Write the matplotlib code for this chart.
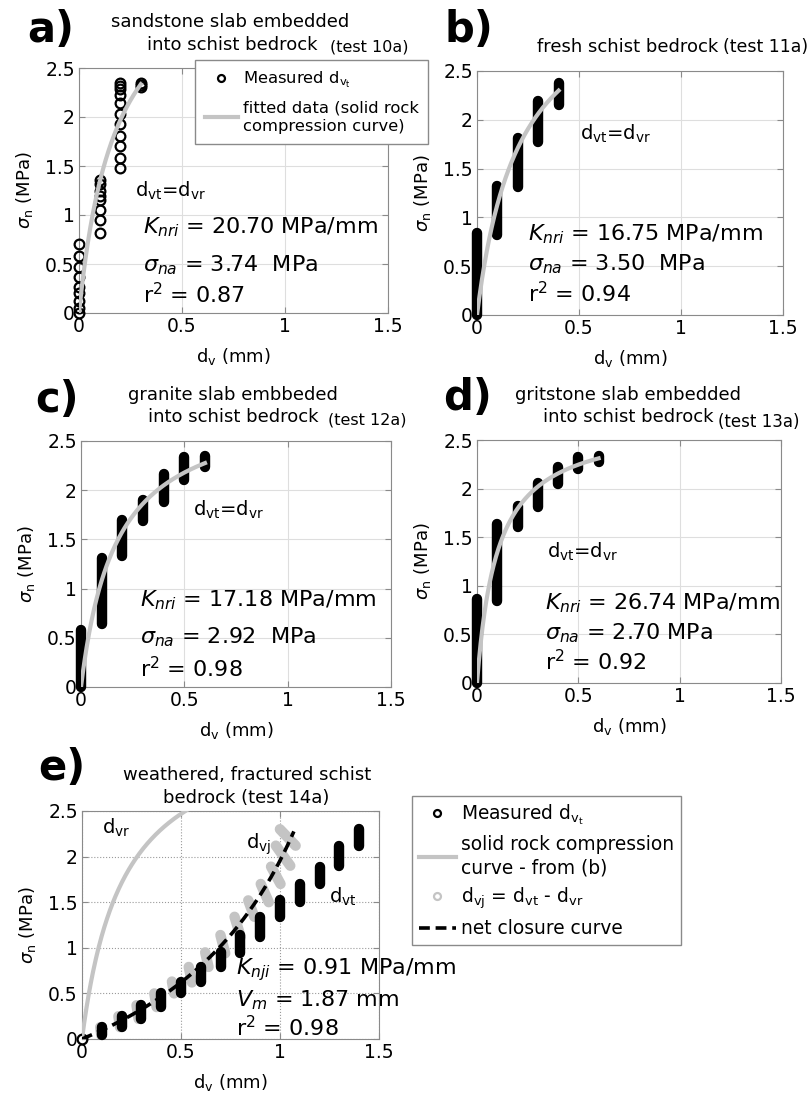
import numpy as np
import matplotlib
matplotlib.use("Agg")
import matplotlib.pyplot as plt
from matplotlib.lines import Line2D

plt.rcParams['font.family'] = ['DejaVu Sans']
plt.rcParams['mathtext.fontset'] = 'dejavusans'

# ---- values ----
# panel a: single measured points, d_vt (mm) / sigma_n (MPa)
a_d = [0] * 9 + [0.1] * 8 + [0.2] * 11 + [0.3] * 3
a_s = [0.0, 0.05, 0.12, 0.2, 0.27, 0.37, 0.47, 0.58, 0.70,
       0.82, 0.95, 1.05, 1.15, 1.19, 1.25, 1.32, 1.36,
       1.48, 1.58, 1.70, 1.81, 1.93, 2.03, 2.14, 2.22, 2.29, 2.32, 2.35,
       2.31, 2.33, 2.35]

# panels b-d: dense stacks of measured points, one stack per load step
b_d = [0, 0.1, 0.2, 0.3, 0.4]
b_lo = [0.0, 0.82, 1.31, 1.77, 2.15]
b_hi = [0.84, 1.32, 1.81, 2.19, 2.38]

c_d = [0, 0.1, 0.2, 0.3, 0.4, 0.5, 0.6]
c_lo = [0.0, 0.64, 1.33, 1.69, 1.88, 2.10, 2.24]
c_hi = [0.58, 1.31, 1.70, 1.90, 2.16, 2.34, 2.35]

d_d = [0, 0.1, 0.2, 0.3, 0.4, 0.5, 0.6]
d_lo = [0.0, 0.84, 1.60, 1.81, 2.05, 2.20, 2.27]
d_hi = [0.86, 1.64, 1.82, 2.06, 2.22, 2.32, 2.34]

# panel e: weathered schist, measured total closure d_vt
e_d = [0.1, 0.2, 0.3, 0.4, 0.5, 0.6, 0.7, 0.8, 0.9, 1.0, 1.1, 1.2, 1.3, 1.4]
e_lo = [0.04, 0.13, 0.22, 0.35, 0.50, 0.62, 0.79, 0.94, 1.12, 1.34, 1.50, 1.70, 1.90, 2.12]
e_hi = [0.13, 0.25, 0.37, 0.50, 0.63, 0.79, 0.95, 1.14, 1.34, 1.52, 1.70, 1.89, 2.12, 2.30]

# fitted parameters printed on the panels
fit_K = [20.70, 16.75, 17.18, 26.74]
fit_sa = [3.74, 3.50, 2.92, 2.70]
fit_r2 = ["0.87", "0.94", "0.98", "0.92"]
fit_dmax = [0.3, 0.4, 0.6, 0.6]
e_K, e_Vm, e_r2, e_dmax = 0.91, 1.87, "0.98", 1.07

W, H = 812, 1097
GRAY = '#c4c4c4'
SPINE = '#8a8a8a'


def fig_box(x0, y0, x1, y1):
    return [x0 / W, 1 - y1 / H, (x1 - x0) / W, (y1 - y0) / H]


def ftext(x, y, s, **kw):
    fig.text(x / W, 1 - y / H, s, va='center', **kw)


def style(ax, grid_ls='-', grid_col='#dedede'):
    ax.set_xlim(0, 1.5)
    ax.set_ylim(0, 2.5)
    ax.set_xticks([0, 0.5, 1, 1.5])
    ax.set_xticklabels(['0', '0.5', '1', '1.5'])
    ax.set_yticks([0, 0.5, 1, 1.5, 2, 2.5])
    ax.set_yticklabels(['0', '0.5', '1', '1.5', '2', '2.5'])
    ax.tick_params(direction='in', length=4, color=SPINE, labelsize=13.5,
                   top=True, right=True, pad=3)
    for sp in ax.spines.values():
        sp.set_color(SPINE)
    ax.grid(True, ls=grid_ls, color=grid_col, lw=0.8)
    ax.set_axisbelow(True)
    ax.set_xlabel(r'd$_\mathrm{v}$ (mm)', fontsize=13, labelpad=7)
    ax.set_ylabel(r'$\sigma_\mathrm{n}$ (MPa)', fontsize=13, labelpad=7)


def stacks(ax, xs, lo, hi, color='k'):
    for x, y0, y1 in zip(xs, lo, hi):
        ax.plot([x, x], [y0, y1], color=color, lw=7.5, solid_capstyle='round',
                zorder=3, clip_on=False)


def rock_curve(K, sa, dmax):
    d = np.linspace(0, dmax, 200)
    return d, K * d * sa / (sa + K * d)


def params(ax, x, ys, K, sa, r2, spacing=''):
    ax.text(x, ys[0], r'$K_{nri}$ = %.2f MPa/mm' % K, fontsize=16, va='center')
    ax.text(x, ys[1], r'$\sigma_{na}$ = %.2f %sMPa' % (sa, spacing), fontsize=16, va='center')
    ax.text(x, ys[2], r'r$^2$ = ' + r2, fontsize=16, va='center')


def legend(handles, labels, x, y, size, lsp, mlsp, pad=0.35):
    leg = fig.legend(handles, labels, loc='upper left', bbox_to_anchor=(x / W, 1 - y / H),
                     fontsize=size, fancybox=False, edgecolor=SPINE, framealpha=1,
                     borderpad=pad, labelspacing=lsp, handlelength=2.0,
                     handletextpad=0.3, borderaxespad=0)
    for t in leg.get_texts():
        t.set_linespacing(mlsp)
    return leg


fig = plt.figure(figsize=(W / 100, H / 100), dpi=100)

boxes = [(79, 68, 388, 313), (477, 71, 783, 315), (81, 441, 391, 687), (477, 440, 781, 683)]
axs = [fig.add_axes(fig_box(*b)) for b in boxes]
for ax in axs:
    style(ax)

# a)
ax = axs[0]
ax.plot(a_d, a_s, 'o', mfc='none', mec='k', ms=7, mew=1.6, zorder=3, clip_on=False)
h_fit, = ax.plot(*rock_curve(fit_K[0], fit_sa[0], fit_dmax[0]), color=GRAY, lw=3, zorder=4)
ax.text(0.27, 1.25, r'd$_\mathrm{vt}$=d$_\mathrm{vr}$', fontsize=14, va='center')
params(ax, 0.31, [0.88, 0.49, 0.19], fit_K[0], fit_sa[0], fit_r2[0], spacing=' ')
leg_meas = Line2D([], [], ls='none', marker='o', mfc='none', mec='k', ms=5, mew=1.6)
legend([leg_meas, h_fit],
       [r'Measured d$_{\mathrm{v}_\mathrm{t}}$', 'fitted data (solid rock\ncompression curve)'],
       195, 60, 11.8, 0.6, 1.3, pad=0.6)

# b) - d)
for i, (ax, xs, lo, hi) in enumerate(zip(axs[1:], [b_d, c_d, d_d], [b_lo, c_lo, d_lo], [b_hi, c_hi, d_hi])):
    stacks(ax, xs, lo, hi)
    ax.plot(*rock_curve(fit_K[i + 1], fit_sa[i + 1], fit_dmax[i + 1]), color=GRAY, lw=3, zorder=4)

axs[1].text(0.505, 1.86, r'd$_\mathrm{vt}$=d$_\mathrm{vr}$', fontsize=14, va='center')
params(axs[1], 0.25, [0.83, 0.52, 0.22], fit_K[1], fit_sa[1], fit_r2[1], spacing=' ')
axs[2].text(0.54, 1.8, r'd$_\mathrm{vt}$=d$_\mathrm{vr}$', fontsize=14, va='center')
params(axs[2], 0.285, [0.88, 0.51, 0.19], fit_K[2], fit_sa[2], fit_r2[2], spacing=' ')
axs[3].text(0.345, 1.35, r'd$_\mathrm{vt}$=d$_\mathrm{vr}$', fontsize=14, va='center')
params(axs[3], 0.335, [0.82, 0.51, 0.22], fit_K[3], fit_sa[3], fit_r2[3])

# e)
ax = fig.add_axes(fig_box(82, 811, 379, 1039))
style(ax, grid_ls=':', grid_col='#9a9a9a')
Kb, sab = fit_K[1], fit_sa[1]


def d_rock(s):
    s = np.asarray(s, dtype=float)
    return s * sab / (Kb * (sab - s))


# d_vj = d_vt - d_vr, one slanted stack per load step
for x, y0, y1 in zip(e_d, e_lo, e_hi):
    ax.plot([x - d_rock(y0), x - d_rock(y1)], [y0, y1], color=GRAY, lw=7.5,
            solid_capstyle='round', zorder=2)
stacks(ax, e_d, e_lo, e_hi)
ax.plot([0], [0], 'o', mfc='none', mec='k', ms=7, mew=1.6, zorder=3, clip_on=False)
dr, sr = rock_curve(Kb, sab, 0.56)
h_rock, = ax.plot(dr, sr, color=GRAY, lw=3, zorder=4)
de = np.linspace(0, e_dmax, 200)
h_net, = ax.plot(de, e_K * de / (1 - de / e_Vm), color='k', lw=2.6, ls=(0, (3, 1.6)), zorder=5)
ax.text(0.1, 2.32, r'd$_\mathrm{vr}$', fontsize=14, va='center')
ax.text(0.83, 2.13, r'd$_\mathrm{vj}$', fontsize=14, va='center')
ax.text(1.25, 1.56, r'd$_\mathrm{vt}$', fontsize=14, va='center')
ax.text(0.78, 0.76, r'$K_{nji}$ = %.2f MPa/mm' % e_K, fontsize=16, va='center')
ax.text(0.78, 0.43, r'$V_{m}$ = %.2f mm' % e_Vm, fontsize=16, va='center')
ax.text(0.78, 0.12, r'r$^2$ = ' + e_r2, fontsize=16, va='center')

leg_vj = Line2D([], [], ls='none', marker='o', mfc='none', mec=GRAY, ms=5, mew=1.6)
legend([leg_meas, h_rock, leg_vj, h_net],
       [r'Measured d$_{\mathrm{v}_\mathrm{t}}$', 'solid rock compression\ncurve - from (b)',
        r'd$_\mathrm{vj}$ = d$_\mathrm{vt}$ - d$_\mathrm{vr}$', 'net closure curve'],
       412, 796, 13.4, 0.45, 1.25)

# titles and panel letters
ftext(111, 22, 'sandstone slab embedded', fontsize=13)
ftext(147, 45, 'into schist bedrock', fontsize=13)
ftext(330, 47, '(test 10a)', fontsize=11.5)
ftext(537, 47, 'fresh schist bedrock', fontsize=13)
ftext(723, 47, '(test 11a)', fontsize=12.5)
ftext(128, 395, 'granite slab embbeded', fontsize=13)
ftext(148, 417, 'into schist bedrock', fontsize=13)
ftext(328, 420, '(test 12a)', fontsize=11.5)
ftext(515, 395, 'gritstone slab embedded', fontsize=13)
ftext(543, 417, 'into schist bedrock', fontsize=13)
ftext(718, 422, '(test 13a)', fontsize=12)
ftext(123, 775, 'weathered, fractured schist', fontsize=13)
ftext(163, 798, 'bedrock (test 14a)', fontsize=13)

for lab, x, y in [('a)', 27, 30), ('b)', 445, 30), ('c)', 35, 400), ('d)', 443, 398), ('e)', 38, 768)]:
    ftext(x, y, lab, fontsize=30, fontweight='bold')

fig.savefig('out.png', dpi=100)
